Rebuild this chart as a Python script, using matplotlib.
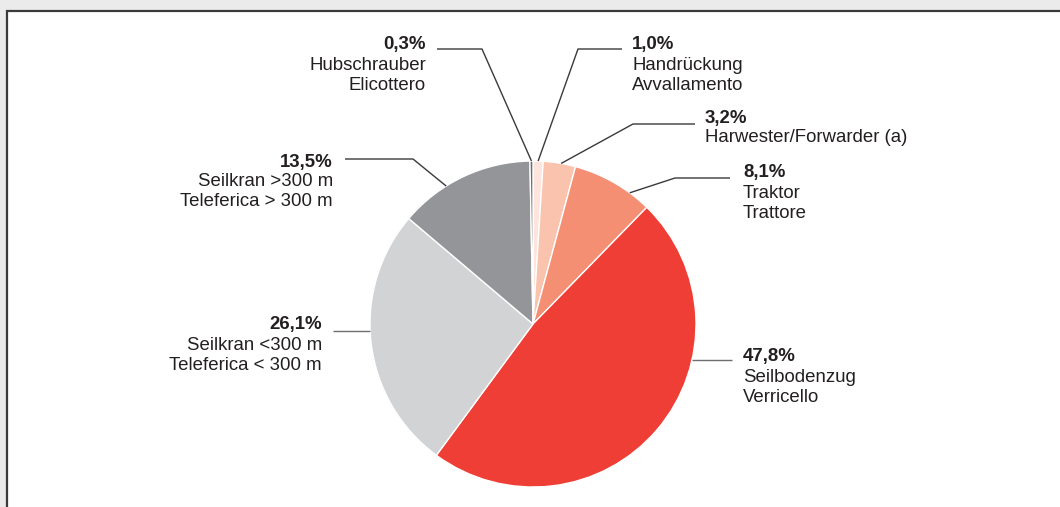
import numpy as np
import matplotlib
matplotlib.use('Agg')
import matplotlib.pyplot as plt
from matplotlib.patches import Rectangle

plt.rcParams.update({
    'font.family': ['Liberation Sans', 'DejaVu Sans'],
    'font.size': 13,
})

# Data (clockwise from 12 o'clock)
PCT = [1.0, 3.2, 8.1, 47.8, 26.1, 13.5, 0.3]
PCT_LABELS = ["1,0%", "3,2%", "8,1%", "47,8%", "26,1%", "13,5%", "0,3%"]
NAMES_DE = ["Handrückung", "Harwester/Forwarder (a)", "Traktor", "Seilbodenzug",
            "Seilkran <300 m", "Seilkran >300 m", "Hubschrauber"]
NAMES_IT = ["Avvallamento", None, "Trattore", "Verricello",
            "Teleferica < 300 m", "Teleferica > 300 m", "Elicottero"]
COLORS = ["#fde4dc", "#f9c3ad", "#f48f74", "#ee3e35", "#d2d3d5", "#939598", "#6d6e71"]

# Layout in pixels (origin top-left)
W, H = 1060, 507
CX, CY, R = 533, 324, 163
ANCHOR_FRAC = [0.5, 0.55, 0.73, 0.34, 0.545, 0.36, 0.5]
ELBOW = [(578, 49), (633, 124), (675, 178), None, None, (413, 159), (482, 49)]
LINE_END = [622, 695, 730, 732, 333, 345, 437]
TEXT_X = [632, 705, 743, 743, 322, 333, 426]
TEXT_Y = [45, 118, 173, 357, 325, 162, 45]
TEXT_HA = ['left', 'left', 'left', 'left', 'right', 'right', 'right']
LINE_STEP = 20
FS = 13.4
TXT = '#231f20'


def py(y):
    return H - y


fig = plt.figure(figsize=(W / 100, H / 100), dpi=100, facecolor='#ebebeb')
ax = fig.add_axes([0, 0, 1, 1])

# white panel with dark left/top border
ax.add_patch(Rectangle((7, py(11) - 600), 1200, 600, facecolor='white',
                       edgecolor='#3a3a3a', linewidth=1.6, clip_on=False, zorder=0))

wedges, _ = ax.pie(PCT, colors=COLORS, startangle=90, counterclock=False,
                   center=(CX, py(CY)), radius=R, frame=True,
                   wedgeprops=dict(edgecolor='white', linewidth=1))
ax.set_xlim(0, W)
ax.set_ylim(0, H)
ax.set_aspect('equal')
ax.axis('off')

for i, w in enumerate(wedges):
    t1, t2 = w.theta1, w.theta2
    ang = np.deg2rad(t2 - (t2 - t1) * ANCHOR_FRAC[i])
    ax_x = CX + R * np.cos(ang)
    ax_y = py(CY) + R * np.sin(ang)
    if ELBOW[i] is None:
        xs = [ax_x, LINE_END[i]]
        ys = [ax_y, ax_y]
        lc = '#6d6e71'
    else:
        ex, ey = ELBOW[i]
        xs = [ax_x, ex, LINE_END[i]]
        ys = [ax_y, py(ey), py(ey)]
        lc = '#3a3a3a'
    ax.plot(xs, ys, color=lc, lw=1, solid_capstyle='butt', zorder=3)

    lines = [(PCT_LABELS[i], 'bold'), (NAMES_DE[i], 'normal')]
    if NAMES_IT[i]:
        lines.append((NAMES_IT[i], 'normal'))
    for k, (s, fw) in enumerate(lines):
        ax.text(TEXT_X[i], py(TEXT_Y[i] + k * LINE_STEP), s, ha=TEXT_HA[i],
                va='center', fontsize=FS, fontweight=fw, color=TXT)

fig.savefig('out.png', dpi=100, facecolor=fig.get_facecolor())
